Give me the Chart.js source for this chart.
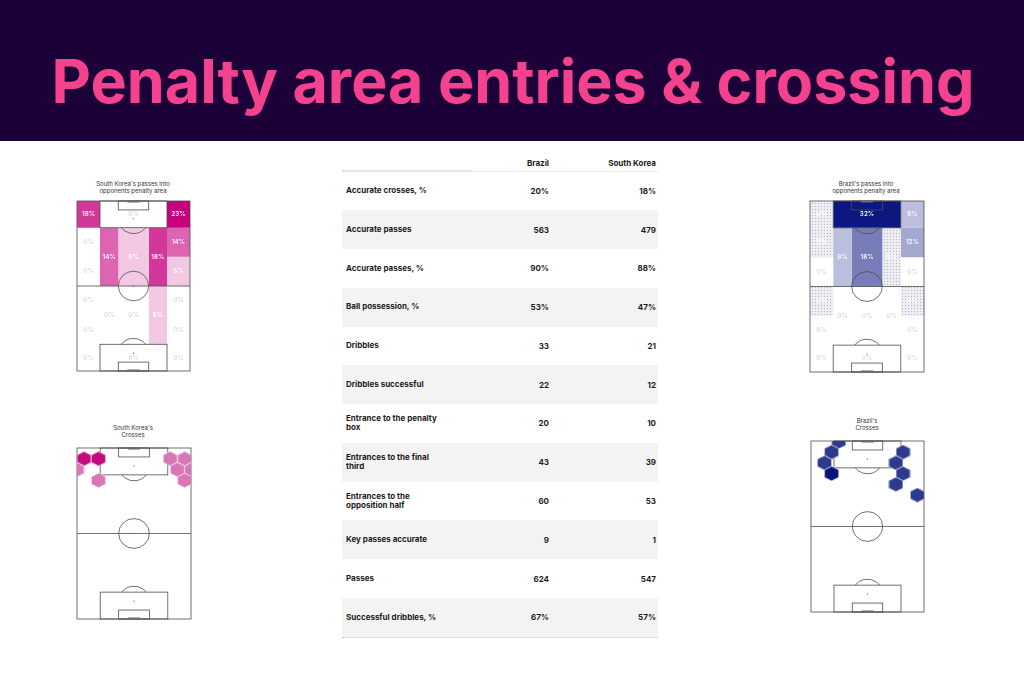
<!DOCTYPE html>
<html>
<head>
<meta charset="utf-8">
<script src="https://cdn.jsdelivr.net/npm/chart.js@4.4.0/dist/chart.umd.min.js"></script>
<style>
  html, body { margin: 0; padding: 0; background: #fff; }
  body { width: 1024px; height: 683px; position: relative; overflow: hidden; font-family: Inter, "Noto Sans", sans-serif; }
  #head { position: absolute; left: 0; top: 0; }
  .ptitle { position: absolute; width: 160px; font-size: 6px; line-height: 7px; color: #333; text-align: center; }
  .pitch { position: absolute; }
  .row { position: absolute; left: 342px; width: 316px; display: flex; align-items: center; font-size: 8px; font-weight: 700; color: #1c1c1c; }
  .row.alt { background: #f3f3f3; }
  .lab { width: 130px; padding-left: 4px; box-sizing: border-box; }
  .lab div { max-width: 97px; line-height: 9.5px; }
  .c1 { width: 77px; text-align: right; }
  .c2 { width: 107px; text-align: right; }
</style>
</head>
<body>
<svg id="head" width="1024" height="141">
  <rect width="1024" height="141" fill="#1c0038"></rect>
  <text id="title" x="513" y="103" text-anchor="middle" fill="#f5428f" font-family="Inter" font-weight="700" font-size="52">Penalty area entries &amp; crossing</text>
</svg>

<div class="ptitle" style="left:53px;top:179.5px">South Korea's passes into<br>opponents penalty area</div>
<div class="ptitle" style="left:786px;top:179.5px">Brazil's passes into<br>opponents penalty area</div>
<div class="ptitle" style="left:53px;top:423.5px">South Korea's<br>Crosses</div>
<div class="ptitle" style="left:787px;top:416.5px">Brazil's<br>Crosses</div>

<div class="pitch" style="left:75px;top:199px;width:117px;height:174px"><canvas id="koreaZones"></canvas></div>
<div class="pitch" style="left:808px;top:199px;width:118px;height:175px"><canvas id="brazilZones"></canvas></div>
<div class="pitch" style="left:75px;top:446px;width:118px;height:175px"><canvas id="koreaCrosses"></canvas></div>
<div class="pitch" style="left:809px;top:439px;width:117px;height:175px"><canvas id="brazilCrosses"></canvas></div>

<div id="table"></div>

<script>
// ---- table data
const statNames = ['Accurate crosses, %', 'Accurate passes', 'Accurate passes, %', 'Ball possession, %',
  'Dribbles', 'Dribbles successful', 'Entrance to the penalty box', 'Entrances to the final third',
  'Entrances to the opposition half', 'Key passes accurate', 'Passes', 'Successful dribbles, %'];
const brazilStats = ['20%', '563', '90%', '53%', '33', '22', '20', '43', '60', '9', '624', '67%'];
const koreaStats = ['18%', '479', '88%', '47%', '21', '12', '10', '39', '53', '1', '547', '57%'];

// ---- pitch zones, metres (x across 0-68, y from the attacked goal line 0-105)
const zoneX0 = [0, 13.84, 54.16, 0, 0, 13.84, 24.84, 43.16, 54.16, 54.16, 0, 0, 0, 13.84, 24.84, 43.16, 54.16, 54.16, 54.16, 13.84];
const zoneX1 = [13.84, 54.16, 68, 13.84, 13.84, 24.84, 43.16, 54.16, 68, 68, 13.84, 13.84, 13.84, 24.84, 43.16, 54.16, 68, 68, 68, 54.16];
const zoneY0 = [0, 0, 0, 16.5, 34.5, 16.5, 16.5, 16.5, 16.5, 34.5, 52.5, 70.5, 88.5, 52.5, 52.5, 52.5, 52.5, 70.5, 88.5, 88.5];
const zoneY1 = [16.5, 16.5, 16.5, 34.5, 52.5, 52.5, 52.5, 52.5, 34.5, 52.5, 70.5, 88.5, 105, 88.5, 88.5, 88.5, 70.5, 88.5, 105, 105];

// share of passes into the box from each zone, %
const koreaZonePct = [18, 0, 23, 0, 0, 14, 5, 18, 14, 5, 0, 0, 0, 0, 0, 5, 0, 0, 0, 0];
const brazilZonePct = [0, 32, 9, 5, 0, 9, 18, 0, 12, 0, 0, 0, 0, 0, 0, 0, 0, 0, 0, 0];
const brazilDotted = [0, 3, 7, 10, 16];

// ---- crosses hexbins (metres) and counts
const koreaCrossX = [4.2, 12.8, 0, 12.8, 55.6, 64.2, 59.9, 68.4, 64.2];
const koreaCrossY = [6.6, 6.6, 13.3, 19.9, 6.6, 6.6, 13.3, 13.3, 19.9];
const koreaCrossN = [2, 2, 1, 1, 1, 1, 1, 1, 1];
const brazilCrossX = [16.7, 12.4, 8.1, 12.4, 55.4, 51.1, 55.4, 51.1, 64.0];
const brazilCrossY = [0.3, 6.8, 13.4, 20.0, 6.8, 13.4, 20.0, 26.6, 33.2];
const brazilCrossN = [1, 1, 1, 2, 1, 1, 1, 1, 1];

// ---- title fit
const titleEl = document.getElementById('title');
titleEl.setAttribute('font-size', (52 * 923 / titleEl.getComputedTextLength()).toFixed(2));

// ---- table
const table = document.getElementById('table');
const rowH = 38.77;
let html = '<div class="row" style="top:155px;height:16px;border-bottom:1px solid #ececec">' +
  '<div class="lab" style="align-self:stretch;border-bottom:1px dotted #ccc"></div><div class="c1">Brazil</div><div class="c2">South Korea</div></div>';
statNames.forEach((name, i) => {
  const last = i === statNames.length - 1 ? ';border-bottom:1px dotted #c8c8c8' : '';
  html += `<div class="row${i % 2 ? ' alt' : ''}" style="top:${(171.5 + i * rowH).toFixed(2)}px;height:${rowH}px${last}">` +
    `<div class="lab"><div>${name}</div></div><div class="c1">${brazilStats[i]}</div><div class="c2">${koreaStats[i]}</div></div>`;
});
table.innerHTML = html;

// ---- helpers
function hexToRgb(h) { return [1, 3, 5].map(i => parseInt(h.substr(i, 2), 16)); }
function mix(hex, t) {
  const c = hexToRgb(hex);
  return 'rgb(' + c.map(v => Math.round(255 + (v - 255) * t)).join(',') + ')';
}

function dotPattern() {
  const tile = document.createElement('canvas');
  tile.width = 3; tile.height = 3;
  const g = tile.getContext('2d');
  g.fillStyle = '#eeeef2'; g.fillRect(0, 0, 3, 3);
  g.fillStyle = '#b3b5cd'; g.fillRect(1, 1, 1, 1);
  return g.createPattern(tile, 'repeat');
}

function hexImage(color) {
  const c = document.createElement('canvas');
  c.width = 15; c.height = 15;
  const g = c.getContext('2d');
  const cx = 7.5, cy = 7.5, hw = 7.1, hh = 7.3;
  g.beginPath();
  g.moveTo(cx, cy - hh); g.lineTo(cx + hw, cy - hh / 2); g.lineTo(cx + hw, cy + hh / 2);
  g.lineTo(cx, cy + hh); g.lineTo(cx - hw, cy + hh / 2); g.lineTo(cx - hw, cy - hh / 2);
  g.closePath();
  g.fillStyle = color; g.fill();
  g.strokeStyle = 'rgba(255,255,255,0.85)'; g.lineWidth = 0.6; g.stroke();
  return c;
}

// pitch markings + zone labels, all placed through the chart scales
const pitchPlugin = {
  id: 'pitch',
  beforeDatasetsDraw(chart, args, opts) { if (!opts.over) drawPitch(chart); },
  afterDatasetsDraw(chart, args, opts) {
    if (opts.over) drawPitch(chart);
    drawLabels(chart);
  }
};

function drawPitch(chart) {
  const { ctx, scales: { x, y } } = chart;
  const px = v => x.getPixelForValue(v), py = v => y.getPixelForValue(v);
  const kx = px(1) - px(0), ky = py(1) - py(0);
  ctx.save();
  ctx.strokeStyle = '#4d4d4d';
  ctx.lineWidth = 0.8;
  const rect = (x0, y0, x1, y1) => ctx.strokeRect(px(x0), Math.min(py(y0), py(y1)), px(x1) - px(x0), Math.abs(py(y1) - py(y0)));
  const dot = (a, b) => { ctx.beginPath(); ctx.arc(px(a), py(b), 0.6, 0, Math.PI * 2); ctx.fillStyle = '#4d4d4d'; ctx.fill(); };
  rect(0, 0, 68, 105);
  ctx.beginPath(); ctx.moveTo(px(0), py(52.5)); ctx.lineTo(px(68), py(52.5)); ctx.stroke();
  ctx.beginPath(); ctx.ellipse(px(34), py(52.5), 9.15 * kx, 9.15 * ky, 0, 0, Math.PI * 2); ctx.stroke();
  dot(34, 52.5);
  const a = Math.asin(5.5 / 9.15);
  [[0, 1], [105, -1]].forEach(([g, d]) => {
    rect(13.84, g, 54.16, g + d * 16.5);
    rect(24.84, g, 43.16, g + d * 5.5);
    dot(34, g + d * 11);
    ctx.beginPath();
    if (d > 0) ctx.ellipse(px(34), py(11), 9.15 * kx, 9.15 * ky, 0, a, Math.PI - a);
    else ctx.ellipse(px(34), py(94), 9.15 * kx, 9.15 * ky, 0, Math.PI + a, 2 * Math.PI - a);
    ctx.stroke();
    ctx.fillStyle = '#6b6b6b';
    ctx.fillRect(px(30.34), d > 0 ? py(0) - 0.5 : py(105) - 1.5, px(37.66) - px(30.34), 2);
  });
  ctx.restore();
}

function drawLabels(chart) {
  const { ctx, scales: { x, y } } = chart;
  ctx.save();
  ctx.font = '600 6.3px Inter, "Noto Sans", sans-serif';
  ctx.textAlign = 'center';
  ctx.textBaseline = 'middle';
  chart.data.datasets.forEach(ds => {
    if (!ds.zoneLabel) return;
    const xs = ds.data.map(p => p.x), ys = ds.data.map(p => p.y);
    const cx = (Math.min(...xs) + Math.max(...xs)) / 2, cy = (Math.min(...ys) + Math.max(...ys)) / 2;
    ctx.fillStyle = ds.zoneLabelColor;
    ctx.fillText(ds.zoneLabel, x.getPixelForValue(cx), y.getPixelForValue(cy));
  });
  ctx.restore();
}

const pitchScales = {
  x: { type: 'linear', min: 0, max: 68, display: false },
  y: { type: 'linear', min: 0, max: 105, reverse: true, display: false }
};

function zoneChart(id, pct, topColor, dotted) {
  const top = Math.max(...pct);
  const pattern = dotPattern();
  const datasets = pct.map((v, i) => {
    const isDot = dotted.includes(i);
    return {
      type: 'line',
      data: [
        { x: zoneX0[i], y: zoneY0[i] }, { x: zoneX1[i], y: zoneY0[i] },
        { x: zoneX1[i], y: zoneY1[i] }, { x: zoneX0[i], y: zoneY1[i] },
        { x: zoneX0[i], y: zoneY0[i] }
      ],
      fill: 'shape',
      backgroundColor: isDot ? pattern : mix(topColor, v / top),
      borderColor: 'rgba(0,0,0,0)',
      borderWidth: 0,
      pointRadius: 0,
      tension: 0,
      zoneLabel: v + '%',
      zoneLabelColor: v > 0 || isDot ? 'rgba(255,255,255,0.95)' : '#dadada'
    };
  });
  new Chart(document.getElementById(id), {
    type: 'scatter',
    data: { datasets },
    options: {
      responsive: true, maintainAspectRatio: false, animation: false, events: [],
      layout: { padding: 2, autoPadding: false },
      scales: pitchScales,
      plugins: { legend: { display: false }, tooltip: { enabled: false }, pitch: { over: true } }
    },
    plugins: [pitchPlugin]
  });
}

function crossChart(id, xs, ys, ns, lowColor, highColor) {
  const imgs = { 1: hexImage(lowColor), 2: hexImage(highColor) };
  new Chart(document.getElementById(id), {
    type: 'scatter',
    data: {
      datasets: [{
        data: xs.map((x, i) => ({ x, y: ys[i], n: ns[i] })),
        pointStyle: ctx => imgs[ctx.raw.n],
        pointRadius: 7,
        clip: 0
      }]
    },
    options: {
      responsive: true, maintainAspectRatio: false, animation: false, events: [],
      layout: { padding: 2, autoPadding: false },
      scales: pitchScales,
      plugins: { legend: { display: false }, tooltip: { enabled: false }, pitch: { over: false } }
    },
    plugins: [pitchPlugin]
  });
}

zoneChart('koreaZones', koreaZonePct, '#c7007d', []);
zoneChart('brazilZones', brazilZonePct, '#0c1782', brazilDotted);
crossChart('koreaCrosses', koreaCrossX, koreaCrossY, koreaCrossN, '#d877b5', '#c40c80');
crossChart('brazilCrosses', brazilCrossX, brazilCrossY, brazilCrossN, '#2e3a8e', '#0b1478');
</script>
</body>
</html>
